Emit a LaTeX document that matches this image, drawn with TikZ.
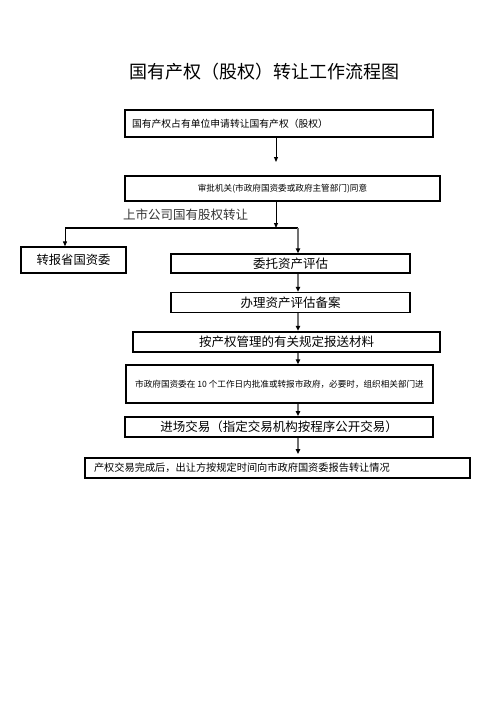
\documentclass[tikz,border=0pt]{standalone}
\usepackage{fontspec}
\setmainfont{Noto Sans CJK SC}
\usepackage{xcolor}
\usetikzlibrary{arrows.meta, positioning, calc}
\definecolor{SpineGray}{HTML}{707070}
\definecolor{LabelGray}{HTML}{333333}
\newcommand{\cjkfs}[1]{\fontsize{#1}{#1}\selectfont}

\begin{document}
\begin{tikzpicture}[x=1pt, y=-1pt,
    stage/.style={rectangle, draw=black, line width=1.5pt, inner sep=0pt,
                  font=\cjkfs{12.5pt}, align=center},
    note/.style={stage, font=\cjkfs{8.6pt}},
    flow/.style={-{Triangle[length=5pt, width=4pt]}, line width=1pt, black},
    spine/.style={-{Triangle[length=5pt, width=4.5pt, color=black]},
                  line width=1.8pt, SpineGray}
]
    \useasboundingbox (0,0) rectangle (496,702);

    % Title
    \node[font=\cjkfs{18pt}] (title) at (264,72) {国有产权（股权）转让工作流程图};

    % Application and approval
    \node[stage, line width=2.5pt, minimum width=308pt, minimum height=27pt,
          text width=294pt, inner xsep=7pt, align=left, font=\cjkfs{9.8pt}]
        (apply) at (279,123.5) {国有产权占有单位申请转让国有产权（股权）};
    \node[note, line width=2pt, minimum width=315pt, minimum height=25pt]
        (approve) at (282.5,188.5) {审批机关(市政府国资委或政府主管部门)同意};
    \node[font=\cjkfs{12.5pt}, text=LabelGray] (listed) at (185.5,215) {上市公司国有股权转让};

    % Branches
    \node[stage, line width=1.3pt, minimum width=105pt, minimum height=26pt, font=\cjkfs{12.3pt}]
        (report) at (73.5,260) {转报省国资委};
    \node[stage, minimum width=239pt, minimum height=19pt]
        (entrust) at (290.5,263.5) {委托资产评估};
    \node[stage, minimum width=239pt, minimum height=20pt]
        (record) at (290.5,302.5) {办理资产评估备案};
    \node[stage, line width=2.5pt, minimum width=307pt, minimum height=20pt]
        (submit) at (286.5,342) {按产权管理的有关规定报送材料};
    \node[note, minimum width=307pt, minimum height=38pt]
        (review) at (279.5,384) {市政府国资委在 10 个工作日内批准或转报市政府，必要时，组织相关部门进};
    \node[stage, line width=2pt, minimum width=308pt, minimum height=20pt]
        (trade) at (279,427) {进场交易（指定交易机构按程序公开交易）};
    \node[stage, line width=2pt, minimum width=385pt, minimum height=20pt,
          text width=367pt, inner xsep=9pt, align=left, font=\cjkfs{10.2pt}]
        (final) at (277.5,468) {产权交易完成后，出让方按规定时间向市政府国资委报告转让情况};

    % Split points
    \coordinate (fork) at (276,228);
    \coordinate (lft) at (65,228);
    \coordinate (spine) at (298,228);

    % Connectors
    \draw[flow, shorten >=13pt] (fork |- apply.south) -- (fork |- approve.north);
    \draw[flow] (fork |- approve.south) -- (fork);
    \draw[line width=1.5pt] (lft) -- (spine);
    \draw[flow] (lft) -- (lft |- report.north);
    \draw[spine] (spine) -- (spine |- entrust.north);
    \foreach \a/\b in {entrust/record, record/submit, submit/review, review/trade}
        \draw[spine] (spine |- \a.south) -- (spine |- \b.north);
    \draw[spine, shorten >=3pt] (spine |- trade.south) -- (spine |- final.north);
\end{tikzpicture}
\end{document}
